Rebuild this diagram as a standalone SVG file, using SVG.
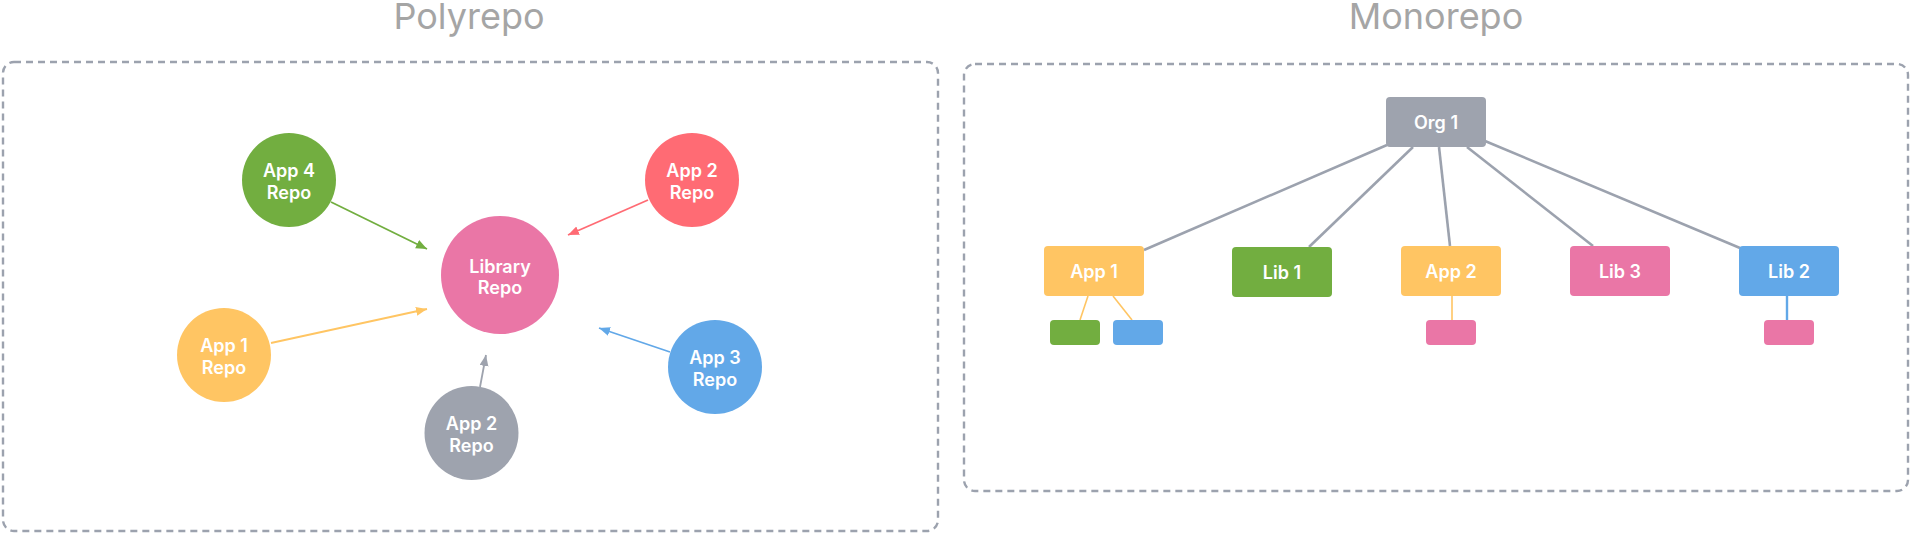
<svg xmlns="http://www.w3.org/2000/svg" width="1913" height="533" viewBox="0 0 1913 533">
  <style>
    .title { font-family: Inter, "Noto Sans", "Liberation Sans", sans-serif; font-size: 36px; fill: #a5a5a5; text-anchor: middle; }
    .lbl { font-family: Inter, "Noto Sans", "Liberation Sans", sans-serif; font-size: 18px; font-weight: 600; fill: #ffffff; text-anchor: middle; }
    .frame { fill: none; stroke: #9ca2ae; stroke-width: 2.4; stroke-dasharray: 7 5; }
    .edge { stroke: #9ca2ae; stroke-width: 2.6; fill: none; }
    .arr { stroke-width: 1.8; fill: none; }
  </style>
  <defs>
    <marker id="mg" markerUnits="userSpaceOnUse" markerWidth="12" markerHeight="10" refX="11" refY="4.5" orient="auto"><path d="M0,0 L11,4.5 L0,9 z" fill="#72ae40"/></marker>
    <marker id="mr" markerUnits="userSpaceOnUse" markerWidth="12" markerHeight="10" refX="11" refY="4.5" orient="auto"><path d="M0,0 L11,4.5 L0,9 z" fill="#ff6b74"/></marker>
    <marker id="my" markerUnits="userSpaceOnUse" markerWidth="12" markerHeight="10" refX="11" refY="4.5" orient="auto"><path d="M0,0 L11,4.5 L0,9 z" fill="#ffc563"/></marker>
    <marker id="mb" markerUnits="userSpaceOnUse" markerWidth="12" markerHeight="10" refX="11" refY="4.5" orient="auto"><path d="M0,0 L11,4.5 L0,9 z" fill="#62a8e8"/></marker>
    <marker id="mk" markerUnits="userSpaceOnUse" markerWidth="12" markerHeight="10" refX="11" refY="4.5" orient="auto"><path d="M0,0 L11,4.5 L0,9 z" fill="#9ea3ae"/></marker>
  </defs>

  <g id="titles">
    <text class="title" x="469" y="28.5">Polyrepo</text>
    <text class="title" x="1436" y="28.5">Monorepo</text>
  </g>

  <g id="frames">
    <rect class="frame" x="3" y="62" width="935" height="469" rx="11"/>
    <rect class="frame" x="964" y="64" width="944" height="427" rx="11"/>
  </g>

  <g id="connectors">
    <line class="arr" x1="331" y1="202" x2="427" y2="249" stroke="#72ae40" marker-end="url(#mg)"/>
    <line class="arr" x1="648" y1="200" x2="568" y2="235" stroke="#ff6b74" marker-end="url(#mr)"/>
    <line class="arr" x1="271" y1="343" x2="427" y2="309" stroke="#ffc563" marker-end="url(#my)"/>
    <line class="arr" x1="670" y1="352" x2="599" y2="328" stroke="#62a8e8" marker-end="url(#mb)"/>
    <line class="arr" x1="480" y1="387" x2="486" y2="355" stroke="#9ea3ae" marker-end="url(#mk)"/>

    <line class="edge" x1="1387" y1="145" x2="1144" y2="250"/>
    <line class="edge" x1="1413" y1="147" x2="1309" y2="247"/>
    <line class="edge" x1="1439" y1="147" x2="1450" y2="246"/>
    <line class="edge" x1="1467" y1="147" x2="1593" y2="246"/>
    <line class="edge" x1="1485" y1="141" x2="1740" y2="248"/>

    <line x1="1088" y1="296" x2="1080" y2="320" stroke="#ffc563" stroke-width="1.6"/>
    <line x1="1113" y1="296" x2="1132" y2="320" stroke="#ffc563" stroke-width="1.6"/>
    <line x1="1452" y1="296" x2="1452" y2="320" stroke="#ffc563" stroke-width="1.6"/>
    <line x1="1787" y1="296" x2="1787" y2="320" stroke="#62a8e8" stroke-width="2.4"/>
  </g>

  <g id="app4-repo">
    <circle cx="289" cy="180" r="47" fill="#72ae40"/>
    <text class="lbl" x="289" y="177">App 4</text>
    <text class="lbl" x="289" y="198.5">Repo</text>
  </g>
  <g id="app2-repo-red">
    <circle cx="692" cy="180" r="47" fill="#ff6b74"/>
    <text class="lbl" x="692" y="177">App 2</text>
    <text class="lbl" x="692" y="198.5">Repo</text>
  </g>
  <g id="library-repo">
    <circle cx="500" cy="275" r="59" fill="#ea76a6"/>
    <text class="lbl" x="500" y="272.5">Library</text>
    <text class="lbl" x="500" y="294">Repo</text>
  </g>
  <g id="app1-repo">
    <circle cx="224" cy="355" r="47" fill="#ffc563"/>
    <text class="lbl" x="224" y="352">App 1</text>
    <text class="lbl" x="224" y="373.5">Repo</text>
  </g>
  <g id="app3-repo">
    <circle cx="715" cy="367" r="47" fill="#62a8e8"/>
    <text class="lbl" x="715" y="364">App 3</text>
    <text class="lbl" x="715" y="385.5">Repo</text>
  </g>
  <g id="app2-repo-gray">
    <circle cx="471.5" cy="433" r="47" fill="#9ea3ae"/>
    <text class="lbl" x="471.5" y="430">App 2</text>
    <text class="lbl" x="471.5" y="451.5">Repo</text>
  </g>

  <g id="org1">
    <rect x="1386" y="97" width="100" height="50" rx="4" fill="#9ea3ae"/>
    <text class="lbl" x="1436" y="129">Org 1</text>
  </g>
  <g id="app1">
    <rect x="1044" y="246" width="100" height="50" rx="4" fill="#ffc563"/>
    <text class="lbl" x="1094" y="278">App 1</text>
  </g>
  <g id="lib1">
    <rect x="1232" y="247" width="100" height="50" rx="4" fill="#72ae40"/>
    <text class="lbl" x="1282" y="279">Lib 1</text>
  </g>
  <g id="app2">
    <rect x="1401" y="246" width="100" height="50" rx="4" fill="#ffc563"/>
    <text class="lbl" x="1451" y="278">App 2</text>
  </g>
  <g id="lib3">
    <rect x="1570" y="246" width="100" height="50" rx="4" fill="#ea76a6"/>
    <text class="lbl" x="1620" y="278">Lib 3</text>
  </g>
  <g id="lib2">
    <rect x="1739" y="246" width="100" height="50" rx="4" fill="#62a8e8"/>
    <text class="lbl" x="1789" y="278">Lib 2</text>
  </g>
  <g id="app1-child-green">
    <rect x="1050" y="320" width="50" height="25" rx="4" fill="#72ae40"/>
  </g>
  <g id="app1-child-blue">
    <rect x="1113" y="320" width="50" height="25" rx="4" fill="#62a8e8"/>
  </g>
  <g id="app2-child">
    <rect x="1426" y="320" width="50" height="25" rx="4" fill="#ea76a6"/>
  </g>
  <g id="lib2-child">
    <rect x="1764" y="320" width="50" height="25" rx="4" fill="#ea76a6"/>
  </g>
</svg>
